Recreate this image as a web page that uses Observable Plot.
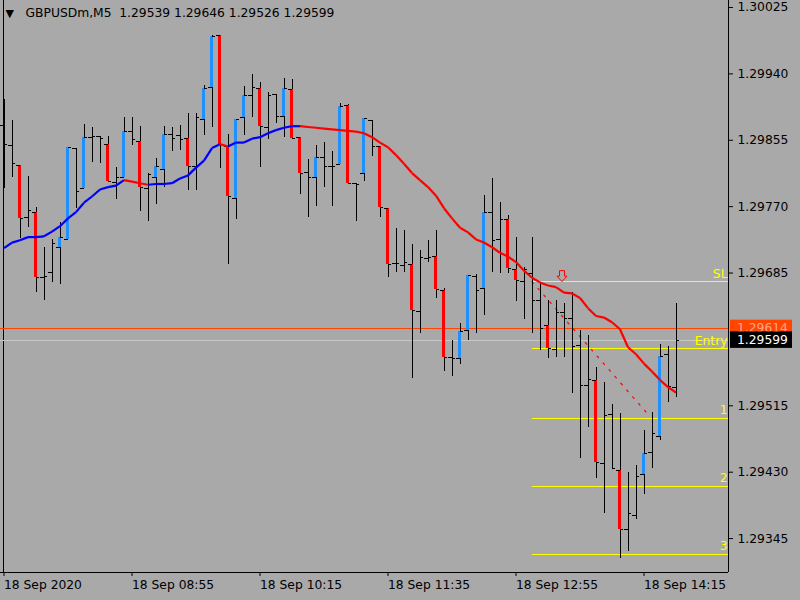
<!DOCTYPE html>
<html><head><meta charset="utf-8">
<script src="https://cdn.jsdelivr.net/npm/d3@7"></script>
<script src="https://cdn.jsdelivr.net/npm/@observablehq/plot@0.6"></script>
<style>
html,body{margin:0;padding:0;background:#A9A9A9;}
#chart{width:800px;height:600px;overflow:hidden;}
</style>
</head><body><div id="chart"></div>
<script>
// ---- data ----
const headerText = "GBPUSDm,M5\u00A0\u00A01.29539 1.29646 1.29526 1.29599";
const barOpen = [
1.29874,1.29848,1.29823,1.29756,1.29763,1.29679,1.29686,1.29718,1.29728,1.29845,
1.29793,1.29859,1.29860,1.29850,1.29801,1.29807,1.29866,1.29854,1.29793,1.29807,
1.29818,1.29863,1.29861,1.29857,1.29822,1.29882,1.29923,1.29989,1.29847,1.29781,
1.29884,1.29912,1.29921,1.29871,1.29914,1.29886,1.29920,1.29859,1.29814,1.29807,
1.29833,1.29822,1.29824,1.29900,1.29800,1.29813,1.29880,1.29847,1.29768,1.29697,
1.29695,1.29696,1.29636,1.29704,1.29706,1.29663,1.29577,1.29576,1.29612,1.29681,
1.29665,1.29763,1.29728,1.29754,1.29690,1.29674,1.29685,1.29650,1.29618,1.29587,
1.29635,1.29627,1.29592,1.29541,1.29548,1.29441,1.29504,1.29432,1.29356,1.29375,
1.29427,1.29455,1.29476,1.29581,1.29539];
const barHigh = [
1.29907,1.29880,1.29823,1.29809,1.29769,1.29718,1.29728,1.29750,1.29846,1.29845,
1.29875,1.29871,1.29860,1.29860,1.29820,1.29884,1.29884,1.29873,1.29813,1.29832,
1.29873,1.29871,1.29874,1.29889,1.29889,1.29925,1.29989,1.29989,1.29863,1.29882,
1.29924,1.29939,1.29929,1.29916,1.29914,1.29934,1.29933,1.29859,1.29831,1.29848,
1.29852,1.29841,1.29902,1.29901,1.29800,1.29883,1.29880,1.29847,1.29768,1.29742,
1.29740,1.29722,1.29714,1.29727,1.29740,1.29665,1.29599,1.29621,1.29682,1.29683,
1.29784,1.29806,1.29775,1.29759,1.29731,1.29692,1.29731,1.29673,1.29650,1.29650,
1.29646,1.29660,1.29612,1.29605,1.29564,1.29545,1.29517,1.29505,1.29430,1.29439,
1.29484,1.29507,1.29594,1.29591,1.29646];
const barLow = [
1.29793,1.29807,1.29729,1.29743,1.29660,1.29650,1.29673,1.29670,1.29728,1.29768,
1.29793,1.29827,1.29825,1.29802,1.29779,1.29807,1.29848,1.29764,1.29751,1.29773,
1.29795,1.29841,1.29842,1.29791,1.29791,1.29861,1.29871,1.29819,1.29696,1.29754,
1.29861,1.29884,1.29820,1.29856,1.29877,1.29859,1.29857,1.29786,1.29756,1.29770,
1.29795,1.29770,1.29824,1.29800,1.29751,1.29802,1.29834,1.29756,1.29679,1.29686,
1.29686,1.29550,1.29608,1.29699,1.29653,1.29559,1.29553,1.29568,1.29598,1.29608,
1.29631,1.29686,1.29685,1.29685,1.29649,1.29626,1.29608,1.29586,1.29575,1.29577,
1.29577,1.29531,1.29447,1.29487,1.29422,1.29377,1.29435,1.29320,1.29329,1.29370,
1.29402,1.29435,1.29470,1.29519,1.29526];
const barClose = [
1.29850,1.29825,1.29755,1.29765,1.29679,1.29681,1.29723,1.29731,1.29846,1.29790,
1.29859,1.29860,1.29857,1.29802,1.29807,1.29866,1.29856,1.29795,1.29811,1.29822,
1.29863,1.29857,1.29856,1.29822,1.29884,1.29921,1.29988,1.29850,1.29783,1.29882,
1.29912,1.29923,1.29873,1.29912,1.29886,1.29921,1.29857,1.29813,1.29807,1.29833,
1.29822,1.29822,1.29898,1.29800,1.29798,1.29883,1.29847,1.29769,1.29696,1.29697,
1.29699,1.29637,1.29705,1.29705,1.29664,1.29577,1.29576,1.29610,1.29682,1.29663,
1.29763,1.29727,1.29754,1.29691,1.29676,1.29690,1.29650,1.29614,1.29589,1.29635,
1.29627,1.29591,1.29541,1.29549,1.29443,1.29503,1.29435,1.29357,1.29377,1.29425,
1.29454,1.29480,1.29578,1.29540,1.29599];
// indicator signal per bar: 1 = up body, -1 = down body, 0 = none
const barSignal = [
0,0,-1,0,-1,0,0,1,1,0,
1,0,0,-1,0,1,0,-1,0,1,
1,0,0,-1,0,1,1,-1,-1,1,
1,0,-1,0,0,1,-1,-1,0,1,
0,0,1,-1,0,1,0,-1,-1,0,
0,-1,0,0,-1,-1,0,1,1,0,
1,0,0,-1,-1,0,0,0,-1,0,
0,0,0,0,-1,0,0,-1,0,0,
1,0,1,0,0];
const maValue = [
1.29717,1.29724,1.29727,1.29731,1.29731,1.29732,1.29738,1.29745,1.29755,1.29763,
1.29775,1.29783,1.29792,1.29795,1.29797,1.29804,1.29802,1.29800,1.29798,1.29799,
1.29799,1.29800,1.29806,1.29810,1.29820,1.29829,1.29845,1.29850,1.29847,1.29852,
1.29852,1.29857,1.29859,1.29864,1.29868,1.29871,1.29873,1.29873,1.29872,1.29871,
1.29870,1.29869,1.29868,1.29867,1.29866,1.29864,1.29859,1.29852,1.29846,1.29836,
1.29825,1.29813,1.29804,1.29795,1.29784,1.29768,1.29755,1.29743,1.29737,1.29728,
1.29724,1.29718,1.29711,1.29706,1.29699,1.29688,1.29679,1.29673,1.29669,1.29667,
1.29660,1.29659,1.29653,1.29640,1.29630,1.29628,1.29622,1.29613,1.29590,1.29581,
1.29569,1.29559,1.29548,1.29539,1.29532];
const xTickBars = [0,16,32,48,64,80];
const xTickLabels = ["18 Sep 2020","18 Sep 08:55","18 Sep 10:15","18 Sep 11:35","18 Sep 12:55","18 Sep 14:15"];
const yTicks = [1.30025,1.29940,1.29855,1.29770,1.29685,1.29515,1.29430,1.29345];
const levelLabels = ["SL","Entry","1","2","3"];
const levelPrices = [1.29674,1.29588,1.29499,1.29412,1.29325];
const signalBar = [66];
const trendBars = [66,80.6];
const trendPrices = [1.29674,1.29503];
const arrowBar = [69.75];
const arrowPrice = [1.29674];
const askPrice = [1.29614];
const bidPrice = [1.29599];
const separatorBar = [0];

// ---- layout ----
const W = 800, H = 600, MR = 72, MB = 28;
const xDomain = [-0.4375, 90.5625];
const yDomain = [1.2930156, 1.3003395];

const bars = barOpen.map((o,i)=>({i,o,h:barHigh[i],l:barLow[i],c:barClose[i],s:barSignal[i]}));
const maSeg = [];
let dir = 1;
for (let i=1;i<maValue.length;i++){
  const d = maValue[i]-maValue[i-1];
  if (d>1e-9) dir = 1; else if (d<-1e-9) dir = -1;
  maSeg.push({x1:i-1,x2:i,y1:maValue[i-1],y2:maValue[i],dir});
}
const levels = levelPrices.map((p,i)=>({p,label:levelLabels[i]}));
const trend = trendBars.map((x,i)=>({x,y:trendPrices[i]}));
const arrows = arrowBar.map((x,i)=>({x,y:arrowPrice[i]}));
const arrowSymbol = {draw(ctx){
  ctx.moveTo(-2.5,-5.5); ctx.lineTo(2.5,-5.5); ctx.lineTo(2.5,0); ctx.lineTo(5,0);
  ctx.lineTo(0,5.5); ctx.lineTo(-5,0); ctx.lineTo(-2.5,0); ctx.closePath();
}};

const plot = Plot.plot({
  width: W, height: H,
  marginLeft: 0, marginRight: MR, marginTop: 0, marginBottom: MB,
  style: {background:"#A9A9A9", color:"#000", fontFamily:"'DejaVu Sans', sans-serif", fontSize:"12.3px"},
  x: {domain: xDomain, axis: null},
  y: {domain: yDomain, axis: null},
  marks: [
    Plot.ruleX(separatorBar, {x: d=>d, stroke:"#000", dx:-1, shapeRendering:"crispEdges"}),
    Plot.ruleY(askPrice, {y: d=>d, stroke:"#FF4500", shapeRendering:"crispEdges"}),
    Plot.ruleY(bidPrice, {y: d=>d, stroke:"#C8C8C8", shapeRendering:"crispEdges"}),
    Plot.ruleY(levels, {y:"p", x1: signalBar[0], x2: xDomain[1], stroke:"#FFFF00", shapeRendering:"crispEdges"}),
    Plot.line(trend, {x:"x", y:"y", stroke:"#FF0000", strokeWidth:1.2, strokeDasharray:"2,7"}),
    Plot.ruleX(bars, {x:"i", y1:"l", y2:"h", stroke:"#000", shapeRendering:"crispEdges"}),
    Plot.ruleX(bars.filter(d=>d.s!==0), {x:"i", y1:"o", y2:"c", stroke: d=> d.s>0 ? "#1E90FF" : "#FF0000", strokeWidth:2.6, dx:-0.3, shapeRendering:"crispEdges"}),
    Plot.ruleY(bars, {y:"o", x1: d=>d.i-0.4375, x2:"i", stroke:"#000", shapeRendering:"crispEdges"}),
    Plot.ruleY(bars, {y:"c", x1:"i", x2: d=>d.i+0.4375, stroke:"#000", shapeRendering:"crispEdges"}),
    Plot.link(maSeg, {x1:"x1", y1:"y1", x2:"x2", y2:"y2", stroke: d=> d.dir>0 ? "#0000FF" : "#FF0000", strokeWidth:2.2}),
    Plot.text(levels, {y:"p", text:"label", frameAnchor:"right", textAnchor:"end", lineAnchor:"middle", dy:-8, dx:-1, fill:"#FFFF00"}),
    Plot.dot(arrows, {x:"x", y:"y", symbol: arrowSymbol, r: 3, stroke:"#FF0000", fill:"none", strokeWidth:1, dy:-5.5}),
    Plot.text(["\u25BC"], {frameAnchor:"top-left", dx:5, dy:13, lineAnchor:"middle", textAnchor:"start", fill:"#000", fontSize:11}),
    Plot.text([headerText], {frameAnchor:"top-left", dx:25, dy:13, lineAnchor:"middle", textAnchor:"start", fill:"#000"}),
    Plot.ruleX([xDomain[1]], {stroke:"#000", shapeRendering:"crispEdges"}),
    Plot.ruleY([yDomain[0]], {stroke:"#000", shapeRendering:"crispEdges"}),
    Plot.axisY(yTicks, {anchor:"right", tickSize:4, tickPadding:5, tickFormat: d=>d.toFixed(5)}),
    Plot.axisX(xTickBars, {anchor:"bottom", tickSize:4, tickPadding:4, textAnchor:"start", tickFormat: d=>xTickLabels[xTickBars.indexOf(d)]})
  ]
});
document.getElementById("chart").appendChild(plot);

// price boxes on the right axis, positioned through Plot's y scale
const ys = plot.scale("y");
const boxX = W - MR + 2;
const svg = d3.select(plot);
function priceBox(price, bg, fg){
  const py = ys.apply(price);
  svg.append("rect").attr("x", boxX).attr("y", py-8.3).attr("width", 62).attr("height", 16.5).attr("fill", bg);
  svg.append("text").attr("x", boxX+7).attr("y", py).attr("dy","0.36em").attr("fill", fg)
     .attr("text-anchor","start")
     .attr("font-family","'DejaVu Sans', sans-serif").attr("font-size","12.3px").text(price.toFixed(5));
}
priceBox(askPrice[0], "#FF4500", "#FFA58C");
priceBox(bidPrice[0], "#000000", "#FFFFFF");
</script>
</body></html>
